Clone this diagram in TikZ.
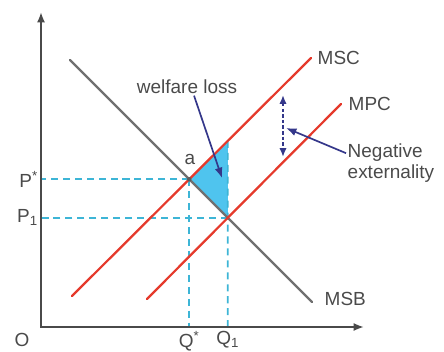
\documentclass[tikz,border=0pt]{standalone}
\usepackage{fontspec}
\setmainfont{Liberation Sans}
\usepackage{tikz}
\usetikzlibrary{arrows.meta,calc}
\definecolor{crojo}{HTML}{E53A2C}
\definecolor{cgris}{HTML}{707070}
\definecolor{ceje}{HTML}{4A4A4A}
\definecolor{ccian}{HTML}{3DB5D6}
\definecolor{crelleno}{HTML}{4FC4EE}
\definecolor{cmarino}{HTML}{34378A}
\definecolor{ctexto}{HTML}{4A4A4A}
\tikzset{
  eje/.style={draw=ceje, line width=1.3pt, {Latex[length=2.6mm,width=2mm]}-{Latex[length=2.6mm,width=2mm]}},
  curvar/.style={draw=crojo, line width=1.6pt, line cap=round},
  curvag/.style={draw=cgris, line width=1.6pt, line cap=round},
  guia/.style={draw=ccian, line width=1.2pt, dash pattern=on 5pt off 3.5pt},
  flecha/.style={-{Latex[length=2.6mm,width=2mm]}, draw=cmarino, line width=1.2pt},
  flechad/.style={{Latex[length=2.2mm,width=1.8mm]}-{Latex[length=2.2mm,width=1.8mm]}, draw=cmarino, line width=1.3pt, dash pattern=on 2.5pt off 1.5pt},
  etq/.style={font=\fontsize{13.5}{15.5}\selectfont, text=ctexto, inner sep=1pt},
}
\begin{document}
\begin{tikzpicture}[x=0.025cm, y=-0.025cm]
  \useasboundingbox (0,0) rectangle (444,352);
  % axes and curve end points
  \coordinate (orig) at (41,327);
  \coordinate (ytop) at (41,12);
  \coordinate (xend) at (364,327);
  \coordinate (msb1) at (70,60);
  \coordinate (msb2) at (312,302);
  \coordinate (msc1) at (72,296);
  \coordinate (msc2) at (311,58);
  \coordinate (mpc1) at (147,299);
  \coordinate (mpc2) at (341,104);
  \coordinate (a) at (intersection of msb1--msb2 and msc1--msc2);
  \coordinate (b) at (intersection of msb1--msb2 and mpc1--mpc2);
  \coordinate (c) at (intersection of msc1--msc2 and b--{b|-ytop});
  % welfare loss triangle
  \fill[crelleno] (a) -- (c) -- (b) -- cycle;
  \draw[guia] (a) -- (a -| orig);
  \draw[guia] (a) -- (a |- orig);
  \draw[guia] (b) -- (b -| orig);
  \draw[guia] (c) -- (b |- orig);
  \draw[eje] (ytop) -- (orig) -- (xend);
  \draw[curvag] (msb1) -- (msb2);
  \draw[curvar] (msc1) -- (msc2);
  \draw[curvar] (mpc1) -- (mpc2);
  \fill[cgris!80!black] (a) circle (2.2);
  % labels
  \node[etq, anchor=west] (lmsc) at (316,58) {MSC};
  \node[etq, anchor=west] (lmpc) at (347,104) {MPC};
  \node[etq, anchor=west] (lmsb) at (323,299) {MSB};
  \node[etq] (la) at (190,159) {a};
  \node[etq] (wl) at (187,87) {welfare loss};
  \node[etq, anchor=west, align=left] (ext) at (346,163) {Negative\\externality};
  \node[etq, anchor=east] (lps) at ([xshift=-1pt]a -| orig) {P\textsuperscript{*}};
  \node[etq, anchor=east] (lp1) at ([xshift=-1pt]b -| orig) {P\textsubscript{1}};
  \node[etq, anchor=north] (lqs) at ([yshift=-2pt]a |- orig) {Q\textsuperscript{*}};
  \node[etq, anchor=north] (lq1) at ([yshift=-2pt]b |- orig) {Q\textsubscript{1}};
  \node[etq] (lo) at (22,340) {O};
  % arrows
  \coordinate (wtip) at (222,178);
  \coordinate (ext1) at (283,95);
  \coordinate (ext2) at (283,157);
  \coordinate (etip) at (286,128);
  \draw[flecha] ([xshift=5pt]wl.south) -- (wtip);
  \draw[flechad] (ext1) -- (ext2);
  \draw[flecha] ([yshift=7pt]ext.west) -- (etip);
\end{tikzpicture}
\end{document}
